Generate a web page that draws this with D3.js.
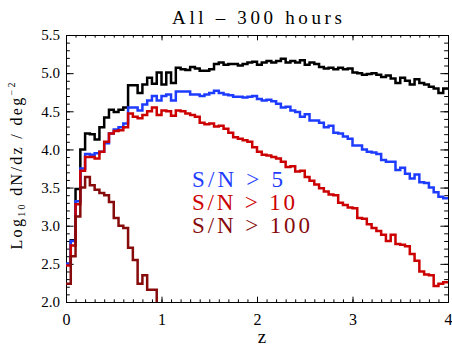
<!DOCTYPE html>
<html>
<head>
<meta charset="utf-8">
<script src="https://cdn.jsdelivr.net/npm/d3@7"></script>
<style>
  body { margin: 0; background: #fff; }
  svg text { font-family: "Liberation Serif", "Times New Roman", serif; }
</style>
</head>
<body>
<script>
// z bin edges (lower edge of each bin, last entry closes the final bin)
const zEdges = [
  0.00, 0.05, 0.10, 0.15, 0.20, 0.25, 0.30, 0.35, 0.40, 0.45,
  0.50, 0.55, 0.60, 0.65, 0.70, 0.75, 0.80, 0.85, 0.90, 0.95,
  1.00, 1.05, 1.10, 1.15, 1.20, 1.25, 1.30, 1.35, 1.40, 1.45,
  1.50, 1.55, 1.60, 1.65, 1.70, 1.75, 1.80, 1.85, 1.90, 1.95,
  2.00, 2.05, 2.10, 2.15, 2.20, 2.25, 2.30, 2.35, 2.40, 2.45,
  2.50, 2.55, 2.60, 2.65, 2.70, 2.75, 2.80, 2.85, 2.90, 2.95,
  3.00, 3.05, 3.10, 3.15, 3.20, 3.25, 3.30, 3.35, 3.40, 3.45,
  3.50, 3.55, 3.60, 3.65, 3.70, 3.75, 3.80, 3.85, 3.90, 3.95,
  4.00
];

// log10 dN/dz per deg^2, one value per bin
const logAll = [
  2.50, 2.81, 3.48, 4.00, 4.21, 4.20, 4.13, 4.29, 4.42, 4.52,
  4.49, 4.52, 4.55, 4.84, 4.84, 4.74, 4.85, 4.94, 4.86, 5.01,
  4.85, 5.01, 4.87, 5.07, 5.05, 5.04, 5.08, 5.06, 5.03, 5.03,
  5.05, 5.12, 5.14, 5.11, 5.12, 5.12, 5.10, 5.12, 5.14, 5.15,
  5.11, 5.14, 5.16, 5.14, 5.16, 5.19, 5.14, 5.16, 5.14, 5.17,
  5.11, 5.14, 5.12, 5.08, 5.06, 5.07, 5.05, 5.07, 5.05, 5.06,
  5.01, 5.00, 4.98, 4.99, 5.00, 4.98, 4.95, 4.97, 4.93, 4.87,
  4.94, 4.90, 4.85, 4.92, 4.87, 4.85, 4.82, 4.80, 4.74, 4.80
];
const logSN5 = [
  2.50, 2.80, 3.32, 3.75, 3.94, 3.93, 3.95, 3.97, 4.08, 4.21,
  4.26, 4.29, 4.34, 4.55, 4.55, 4.51, 4.59, 4.64, 4.70, 4.64,
  4.70, 4.72, 4.64, 4.76, 4.76, 4.76, 4.72, 4.72, 4.70, 4.72,
  4.74, 4.77, 4.74, 4.72, 4.71, 4.69, 4.69, 4.68, 4.69, 4.70,
  4.66, 4.64, 4.65, 4.63, 4.60, 4.55, 4.56, 4.51, 4.49, 4.43,
  4.46, 4.38, 4.38, 4.35, 4.29, 4.31, 4.22, 4.21, 4.17, 4.14,
  4.05, 4.05, 4.00, 3.97, 3.96, 3.94, 3.86, 3.84, 3.84, 3.73,
  3.76, 3.68, 3.62, 3.67, 3.57, 3.56, 3.50, 3.44, 3.38, 3.36
];
const logSN10 = [
  2.48, 2.74, 3.28, 3.72, 3.90, 3.90, 3.88, 3.97, 4.10, 4.21,
  4.24, 4.25, 4.29, 4.47, 4.43, 4.41, 4.45, 4.50, 4.55, 4.45,
  4.51, 4.50, 4.44, 4.51, 4.50, 4.47, 4.45, 4.43, 4.35, 4.33,
  4.34, 4.30, 4.31, 4.27, 4.22, 4.16, 4.14, 4.12, 4.10, 4.03,
  3.97, 3.93, 3.92, 3.90, 3.88, 3.84, 3.77, 3.78, 3.71, 3.72,
  3.64, 3.59, 3.54, 3.49, 3.45, 3.41, 3.40, 3.30, 3.27, 3.24,
  3.23, 3.10, 3.09, 3.02, 2.97, 2.93, 2.88, 2.80, 2.88, 2.76,
  2.75, 2.73, 2.63, 2.54, 2.40, 2.36, 2.35, 2.21, 2.24, 2.26
];
// S/N > 100 runs out near z = 0.95; the last bin is empty (off the bottom of the axis)
const logSN100 = [
  2.24, 2.60, 3.12, 3.50, 3.64, 3.53, 3.47, 3.43, 3.40, 3.31,
  3.10, 3.00, 2.97, 2.71, 2.55, 2.24, 2.35, 2.16, 2.16, 1.50
];

const xTickValues = [0, 1, 2, 3, 4];
const yTickValues = [2.0, 2.5, 3.0, 3.5, 4.0, 4.5, 5.0, 5.5];
const legendLabels = ["S/N > 5", "S/N > 10", "S/N > 100"];

const svgWidth = 452;
const svgHeight = 346;
const margin = { top: 35, right: 4, bottom: 44, left: 66 };
const chartWidth = svgWidth - margin.left - margin.right;
const chartHeight = svgHeight - margin.top - margin.bottom;

const colors = ["#000000", "#1e3cff", "#cc0000", "#870b0b"];

let svg = d3.select("body")
  .append("svg")
  .attr("width", svgWidth)
  .attr("height", svgHeight);

let chartGroup = svg.append("g")
  .attr("transform", `translate(${margin.left}, ${margin.top})`);

let xScale = d3.scaleLinear().domain([0, 4]).range([0, chartWidth]);
let yScale = d3.scaleLinear().domain([2.0, 5.5]).range([chartHeight, 0]);

// IDL-like ticks: inward, major + minor, on all four sides
const xMajor = chartHeight * 0.02;
const yMajor = chartWidth * 0.02;
const xMinorValues = xScale.ticks(40);
const yMinorValues = yScale.ticks(35);

function styleAxis(g) {
  g.selectAll("path, line").attr("stroke", "#000").attr("stroke-width", 1);
}

// bottom
chartGroup.append("g")
  .attr("transform", `translate(0, ${chartHeight})`)
  .call(d3.axisBottom(xScale).tickValues(xMinorValues).tickSize(-xMajor / 2).tickSizeOuter(0).tickFormat(""))
  .call(styleAxis);
let bottomAxis = chartGroup.append("g")
  .attr("transform", `translate(0, ${chartHeight})`)
  .call(d3.axisBottom(xScale).tickValues(xTickValues).tickSize(-xMajor).tickSizeOuter(0).tickPadding(12).tickFormat(d3.format("d")))
  .call(styleAxis);
bottomAxis.selectAll("text")
  .attr("font-size", 16)
  .attr("font-family", "Liberation Serif, serif")
  .attr("fill", "#000");

// top
chartGroup.append("g")
  .call(d3.axisTop(xScale).tickValues(xMinorValues).tickSize(-xMajor / 2).tickSizeOuter(0).tickFormat(""))
  .call(styleAxis);
chartGroup.append("g")
  .call(d3.axisTop(xScale).tickValues(xTickValues).tickSize(-xMajor).tickSizeOuter(0).tickFormat(""))
  .call(styleAxis);

// left
chartGroup.append("g")
  .call(d3.axisLeft(yScale).tickValues(yMinorValues).tickSize(-yMajor / 2).tickSizeOuter(0).tickFormat(""))
  .call(styleAxis);
let leftAxis = chartGroup.append("g")
  .call(d3.axisLeft(yScale).tickValues(yTickValues).tickSize(-yMajor).tickSizeOuter(0).tickPadding(6).tickFormat(d3.format(".1f")))
  .call(styleAxis);
leftAxis.selectAll("text")
  .attr("font-size", 15)
  .attr("font-family", "DejaVu Sans, sans-serif")
  .attr("fill", "#000");

// right
chartGroup.append("g")
  .attr("transform", `translate(${chartWidth}, 0)`)
  .call(d3.axisRight(yScale).tickValues(yMinorValues).tickSize(-yMajor / 2).tickSizeOuter(0).tickFormat(""))
  .call(styleAxis);
chartGroup.append("g")
  .attr("transform", `translate(${chartWidth}, 0)`)
  .call(d3.axisRight(yScale).tickValues(yTickValues).tickSize(-yMajor).tickSizeOuter(0).tickFormat(""))
  .call(styleAxis);

// clip the histograms to the plot box
chartGroup.append("clipPath")
  .attr("id", "plot-clip")
  .append("rect")
  .attr("width", chartWidth)
  .attr("height", chartHeight);

let createLine = d3.line()
  .x(d => xScale(d[0]))
  .y(d => yScale(d[1]))
  .curve(d3.curveStepAfter);

function histPoints(values) {
  let pts = values.map((v, i) => [zEdges[i], v]);
  pts.push([zEdges[values.length], values[values.length - 1]]);
  return pts;
}

[logAll, logSN5, logSN10, logSN100].forEach((series, i) => {
  chartGroup.append("path")
    .attr("d", createLine(histPoints(series)))
    .attr("clip-path", "url(#plot-clip)")
    .attr("fill", "none")
    .attr("stroke", colors[i])
    .attr("stroke-width", 2.5)
    .attr("stroke-linejoin", "miter");
});

// legend
const legendWidths = [91, 103, 118];
legendLabels.forEach((label, i) => {
  svg.append("text")
    .attr("x", 192)
    .attr("y", 187 + i * 23)
    .attr("font-size", 23)
    .attr("textLength", legendWidths[i])
    .attr("lengthAdjust", "spacing")
    .attr("fill", colors[i + 1])
    .text(label);
});

// title
svg.append("text")
  .attr("x", margin.left + chartWidth / 2)
  .attr("y", 24)
  .attr("text-anchor", "middle")
  .attr("font-size", 19)
  .attr("textLength", 170)
  .attr("lengthAdjust", "spacing")
  .text("All – 300 hours");

// x axis title
svg.append("text")
  .attr("x", 262)
  .attr("y", 343)
  .attr("text-anchor", "middle")
  .attr("font-size", 19)
  .text("z");

// y axis title
let yTitle = svg.append("text")
  .attr("transform", "translate(22, 166) rotate(-90)")
  .attr("text-anchor", "middle")
  .attr("font-size", 16)
  .attr("textLength", 167)
  .attr("lengthAdjust", "spacing");
yTitle.append("tspan").text("Log");
yTitle.append("tspan").attr("font-size", 10).attr("dy", 3).text("10");
yTitle.append("tspan").attr("dy", -3).text(" dN/dz / deg");
yTitle.append("tspan").attr("font-size", 10).attr("dy", -7).text("−2");
</script>
</body>
</html>
